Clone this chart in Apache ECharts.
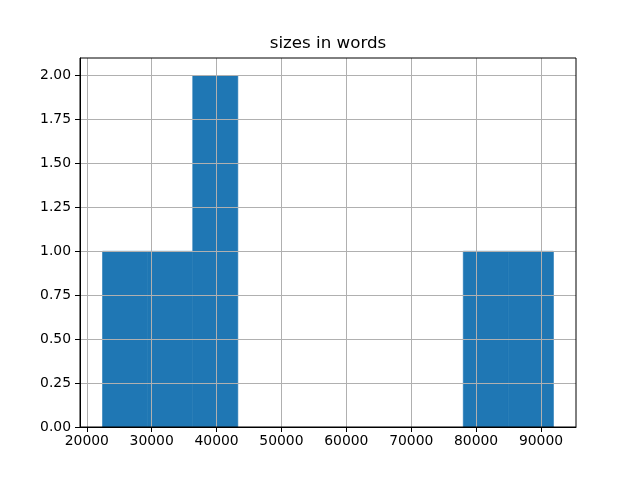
<!DOCTYPE html>
<html><head><meta charset="utf-8">
<script src="https://cdn.jsdelivr.net/npm/echarts@6/dist/echarts.min.js"></script>
<style>html,body{margin:0;padding:0;background:#fff}#c{width:640px;height:480px}</style>
</head><body><div id="c"></div>
<script>
const titleText = 'sizes in words';
const binEdges = [22426, 29376, 36325, 43275, 50224, 57174, 64123, 71073, 78022, 84972, 91921];
const counts = [1, 1, 2, 0, 0, 0, 0, 0, 1, 1];
const xTicks = [20000, 30000, 40000, 50000, 60000, 70000, 80000, 90000];
const yTicks = [0, 0.25, 0.5, 0.75, 1.0, 1.25, 1.5, 1.75, 2.0];

const span = binEdges[binEdges.length-1] - binEdges[0];
const xMin = binEdges[0] - 0.05*span, xMax = binEdges[binEdges.length-1] + 0.05*span;
const yMax = Math.max(...counts)*1.05;
const bars = counts.map((c,i)=>[binEdges[i], binEdges[i+1], c]);

const chart = echarts.init(document.getElementById('c'), null, {renderer:'canvas'});
const font = 'DejaVu Sans';
chart.setOption({
  animation:false,
  backgroundColor:'#fff',
  title:{text:titleText, left:328, top:35, textAlign:'center', padding:0,
    textStyle:{fontFamily:font, fontSize:16.7, fontWeight:'normal', color:'#000'}},
  grid:{left:80, right:64, top:58, bottom:53, show:true, borderColor:'#000', borderWidth:1, z:10},
  xAxis:{type:'value', min:xMin, max:xMax,
    axisLine:{show:true, onZero:false, lineStyle:{color:'#000', width:1}},
    axisTick:{show:true, length:5, customValues:xTicks, lineStyle:{color:'#000'}},
    axisLabel:{customValues:xTicks, margin:7, fontFamily:font, fontSize:13.9, color:'#000',
      formatter:v=>String(Math.round(v))},
    splitLine:{show:true, customValues:xTicks, lineStyle:{color:'#b0b0b0', width:1}}, z:5},
  yAxis:{type:'value', min:0, max:yMax,
    axisLine:{show:true, lineStyle:{color:'#000', width:1}},
    axisTick:{show:true, length:5, customValues:yTicks, lineStyle:{color:'#000'}},
    axisLabel:{customValues:yTicks, margin:9, fontFamily:font, fontSize:13.9, color:'#000',
      formatter:v=>v.toFixed(2)},
    splitLine:{show:true, customValues:yTicks, lineStyle:{color:'#b0b0b0', width:1}}, z:5},
  series:[{type:'custom', data:bars, z:1,
    renderItem:(params, api)=>{
      if (api.value(2) <= 0) return null;
      const p0 = api.coord([api.value(0), api.value(2)]);
      const p1 = api.coord([api.value(1), 0]);
      return {type:'rect', shape:{x:p0[0], y:p0[1], width:p1[0]-p0[0], height:p1[1]-p0[1]},
        style:{fill:'#1f77b4', stroke:'#1f77b4', lineWidth:0.6}};
    }}]
});
</script></body></html>
